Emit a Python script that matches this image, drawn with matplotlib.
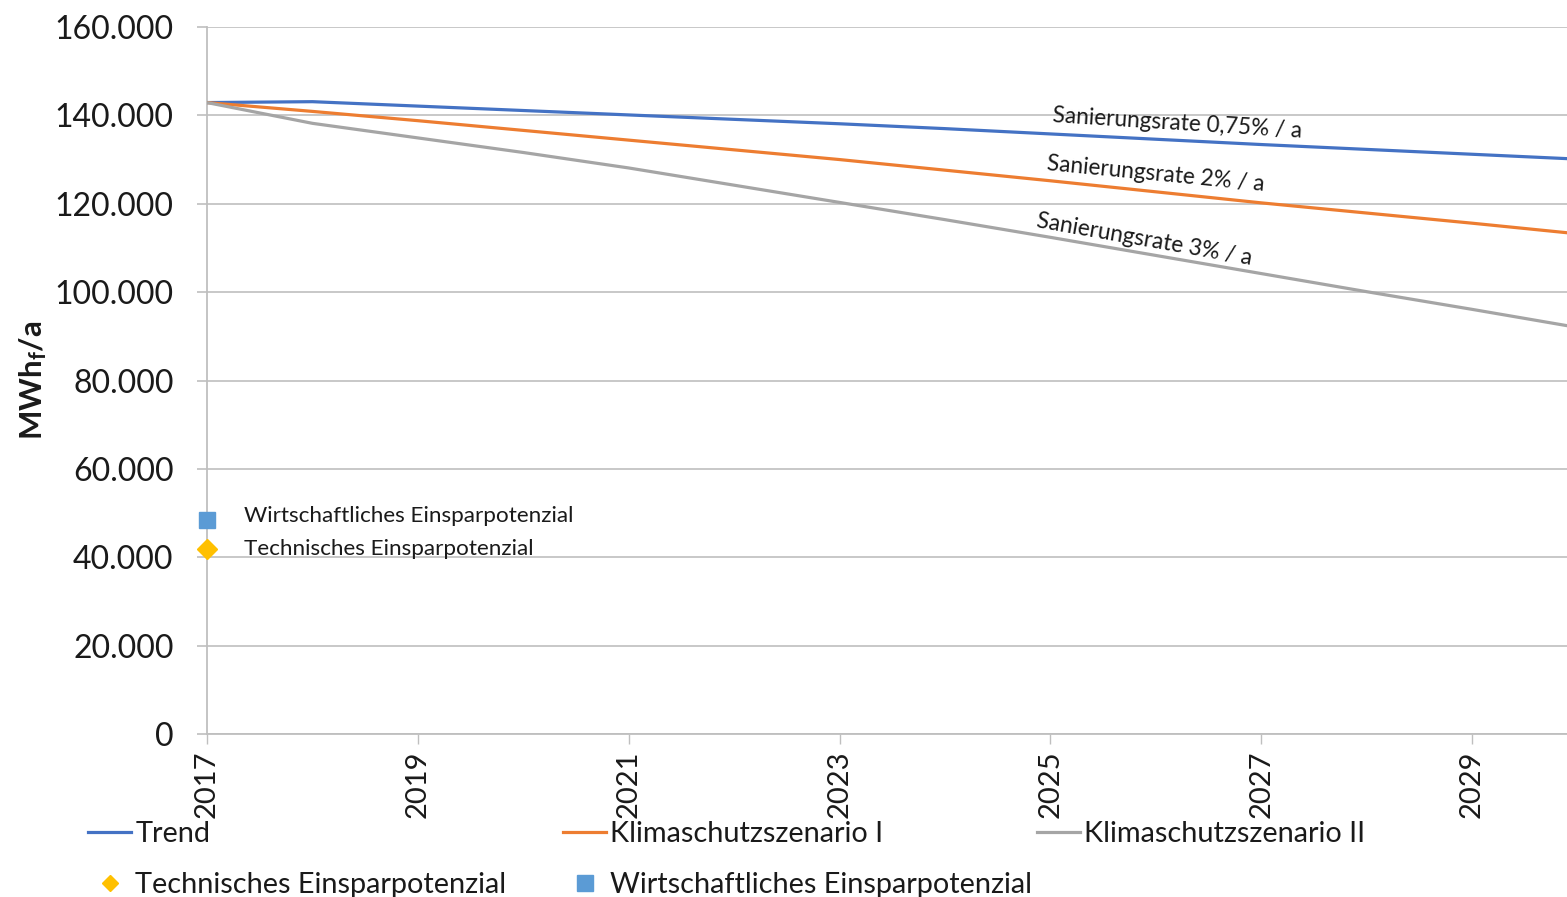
import matplotlib
matplotlib.use("Agg")
import matplotlib.pyplot as plt
from matplotlib.lines import Line2D
from matplotlib.ticker import FuncFormatter, MultipleLocator, FixedLocator

plt.rcParams['font.family'] = ['Lato', 'DejaVu Sans']
plt.rcParams['mathtext.fontset'] = 'custom'
plt.rcParams['mathtext.rm'] = 'Lato:bold'
plt.rcParams['mathtext.it'] = 'Lato:bold'
plt.rcParams['mathtext.bf'] = 'Lato:bold'

# Final energy demand (MWh_f/a) per scenario
years = [2017, 2018, 2019, 2020, 2021, 2022, 2023, 2024, 2025, 2026, 2027, 2028, 2029, 2030]
trend = [142900, 143100, 142100, 141100, 140100, 139100, 138100, 137000, 135800,
         134600, 133400, 132300, 131200, 130100]
szenario_1 = [142900, 140900, 138800, 136600, 134400, 132200, 130000, 127600, 125200,
              122700, 120200, 117900, 115600, 113200]
szenario_2 = [142900, 138200, 134900, 131600, 128100, 124200, 120300, 116400, 112400,
              108300, 104200, 100100, 96100, 92000]

# Savings potentials (2017)
potential_year = 2017
technisch = 41900
wirtschaftlich = 48400

series_names = ["Trend", "Klimaschutzszenario I", "Klimaschutzszenario II"]
potential_names = ["Technisches Einsparpotenzial", "Wirtschaftliches Einsparpotenzial"]
rate_labels = ["Sanierungsrate 0,75% / a", "Sanierungsrate 2% / a", "Sanierungsrate 3% / a"]
tick_years = years[::2]

c_blue, c_orange, c_gray = "#4472C4", "#ED7D31", "#A5A5A5"
c_square, c_diamond = "#5B9BD5", "#FFC000"
grid_c = "#BFBFBF"
text_c = "#1A1A1A"

fig = plt.figure(figsize=(15.67, 8.97), dpi=100)
ax = fig.add_axes([207 / 1567, 1 - 734 / 897, 1 - 207 / 1567, (734 - 27) / 897])

lw = 2.3
ax.plot(years, trend, color=c_blue, lw=lw, solid_capstyle='butt', zorder=3)
ax.plot(years, szenario_1, color=c_orange, lw=lw, solid_capstyle='butt', zorder=3)
ax.plot(years, szenario_2, color=c_gray, lw=lw, solid_capstyle='butt', zorder=3)
ax.plot([potential_year], [wirtschaftlich], marker='s', ms=12, color=c_square,
        ls='none', zorder=4, clip_on=False)
ax.plot([potential_year], [technisch], marker='D', ms=10, color=c_diamond,
        ls='none', zorder=4, clip_on=False)

ax.set_xlim(2017, 2029.9)
ax.set_ylim(0, 160000)
ax.yaxis.set_major_locator(MultipleLocator(20000))
ax.xaxis.set_major_locator(FixedLocator(tick_years))
ax.yaxis.set_major_formatter(FuncFormatter(lambda v, p: f"{int(v):,}".replace(",", ".")))
ax.xaxis.set_major_formatter(FuncFormatter(lambda v, p: f"{int(round(v))}"))

ax.grid(axis='y', color=grid_c, lw=1.2, zorder=0)
for s in ['top', 'right']:
    ax.spines[s].set_visible(False)
for s in ['left', 'bottom']:
    ax.spines[s].set_color(grid_c)
    ax.spines[s].set_linewidth(1.3)
ax.tick_params(axis='y', length=7, width=1.2, color=grid_c, pad=17,
               labelsize=23, labelcolor=text_c)
ax.tick_params(axis='x', length=7, width=1.0, color=grid_c, pad=5,
               labelsize=21, labelcolor=text_c, labelrotation=90)

ax.set_ylabel(r"$\mathrm{MWh_f/a}$", fontsize=22.5, color=text_c)
ax.yaxis.set_label_coords(-0.116, 0.50)

# Renovation-rate annotations along the curves
ax.text(2025.02, 138600, rate_labels[0], fontsize=16.3, rotation=-3.6,
        rotation_mode='anchor', ha='left', va='baseline', color=text_c)
ax.text(2024.96, 127600, rate_labels[1], fontsize=16.3, rotation=-5.5,
        rotation_mode='anchor', ha='left', va='baseline', color=text_c)
ax.text(2024.86, 114800, rate_labels[2], fontsize=16.3, rotation=-10,
        rotation_mode='anchor', ha='left', va='baseline', color=text_c)

# Labels next to the potential markers
ax.text(2017.35, 48000, potential_names[1], fontsize=16.2,
        va='baseline', ha='left', color=text_c)
ax.text(2017.35, 40500, potential_names[0], fontsize=16.2,
        va='baseline', ha='left', color=text_c)

# Legend laid out in three equal-width columns
h_trend = Line2D([], [], color=c_blue, lw=lw)
h_k1 = Line2D([], [], color=c_orange, lw=lw)
h_k2 = Line2D([], [], color=c_gray, lw=lw)
h_tech = Line2D([], [], color=c_diamond, marker='D', ms=8, ls='none')
h_wirt = Line2D([], [], color=c_square, marker='s', ms=11, ls='none')

columns = [
    ([h_trend, h_tech], [series_names[0], potential_names[0]], 88),
    ([h_k1, h_wirt], [series_names[1], potential_names[1]], 563),
    ([h_k2], [series_names[2]], 1037),
]
for handles, labels, x0 in columns:
    leg = fig.legend(handles, labels, loc='upper left',
                     bbox_to_anchor=(x0 / 1567, 1 - 821 / 897),
                     frameon=False, fontsize=20.8, handlelength=1.5,
                     handletextpad=0.14, labelspacing=0.87,
                     borderpad=0, borderaxespad=0)
    for t in leg.get_texts():
        t.set_color(text_c)

fig.savefig("out.png", dpi=100)
